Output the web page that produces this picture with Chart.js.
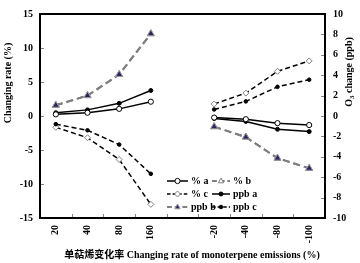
<!DOCTYPE html>
<html>
<head>
<meta charset="utf-8">
<script src="https://cdn.jsdelivr.net/npm/chart.js@4/dist/chart.umd.min.js"></script>
<style>
  html, body { margin: 0; padding: 0; background: #fff; }
  #wrap { width: 360px; height: 263px; }
</style>
</head>
<body>
<div id="wrap"><canvas id="c" width="360" height="263"></canvas></div>
<script>
// categories (blank slot separates increase / decrease scenarios)
const categories = ['20', '40', '80', '160', '', '-20', '-40', '-80', '-100'];

// % series (left axis)
const pctA = [0.24, 0.48, 1.05, 2.1, null, -0.23, -0.47, -1.05, -1.33];
const pctB = [1.57, 3.0, 6.1, 12.1, null, -1.57, -3.1, -6.2, -7.7];
const pctC = [-1.66, -3.2, -6.4, -13.0, null, 1.77, 3.37, 6.57, 8.1];

// ppb series (right axis)
const ppbA = [0.32, 0.6, 1.24, 2.5, null, -0.25, -0.53, -1.3, -1.53];
const ppbB = [1.05, 2.0, 4.07, 8.07, null, -1.05, -2.07, -4.13, -5.13];
const ppbC = [-0.8, -1.4, -2.8, -5.67, null, 0.64, 1.43, 2.86, 3.56];

const SERIF = '"Liberation Serif", "Times New Roman", "Noto Sans CJK SC", serif';
const NAVY = '#2a2463';
const GREY = '#7f7f7f';

const seriesDefs = [
  { label: '% a',   data: pctA, axis: 'y',  color: '#000', dash: [],     width: 1.5, pt: 'circle',   r: 2.6, fill: '#fff', ptBorder: '#000', order: 3 },
  { label: '% b',   data: pctB, axis: 'y',  color: GREY,   dash: [7, 4], width: 2,   pt: 'triangle', r: 4,   fill: '#fff', ptBorder: GREY,   order: 5 },
  { label: '% c',   data: pctC, axis: 'y',  color: '#000', dash: [5, 3], width: 1.5, pt: 'rectRot',  r: 3,   fill: '#fff', ptBorder: GREY,   order: 2 },
  { label: 'ppb a', data: ppbA, axis: 'y1', color: '#000', dash: [],     width: 1.5, pt: 'circle',   r: 2,   fill: '#000', ptBorder: '#000', order: 4 },
  { label: 'ppb b', data: ppbB, axis: 'y1', color: GREY,   dash: [7, 4], width: 2,   pt: 'triangle', r: 4,   fill: NAVY,   ptBorder: '#9a9a9a', order: 1 },
  { label: 'ppb c', data: ppbC, axis: 'y1', color: '#000', dash: [5, 3], width: 1.5, pt: 'circle',   r: 1.8, fill: '#000', ptBorder: '#000', order: 0 }
];

const datasets = seriesDefs.map(s => ({
  label: s.label,
  data: s.data,
  yAxisID: s.axis,
  borderColor: s.color,
  borderDash: s.dash,
  borderWidth: s.width,
  pointStyle: s.pt,
  pointRadius: s.r,
  pointBackgroundColor: s.fill,
  pointBorderColor: s.ptBorder,
  pointBorderWidth: 1,
  tension: 0,
  spanGaps: false,
  order: s.order
}));

function drawMarker(ctx, s, x, y) {
  ctx.save();
  ctx.setLineDash([]);
  ctx.fillStyle = s.fill;
  ctx.strokeStyle = s.ptBorder;
  ctx.lineWidth = 1;
  ctx.beginPath();
  const r = s.r;
  if (s.pt === 'circle') {
    ctx.arc(x, y, r, 0, Math.PI * 2);
  } else if (s.pt === 'triangle') {
    ctx.moveTo(x, y - r);
    ctx.lineTo(x + r * 0.87, y + r * 0.6);
    ctx.lineTo(x - r * 0.87, y + r * 0.6);
    ctx.closePath();
  } else {
    ctx.moveTo(x, y - r); ctx.lineTo(x + r, y); ctx.lineTo(x, y + r); ctx.lineTo(x - r, y);
    ctx.closePath();
  }
  ctx.fill();
  ctx.stroke();
  ctx.restore();
}

function drawO3Title(ctx, cx, cy) {
  ctx.save();
  ctx.translate(cx, cy);
  ctx.rotate(-Math.PI / 2);
  ctx.textAlign = 'left';
  ctx.textBaseline = 'middle';
  const big = 'bold 10px ' + SERIF, small = 'bold 7px ' + SERIF;
  ctx.font = big;
  const w1 = ctx.measureText('O').width;
  const w3 = ctx.measureText(' change (ppb)').width;
  ctx.font = small;
  const w2 = ctx.measureText('3').width;
  const x0 = -(w1 + w2 + w3) / 2;
  ctx.font = big;
  ctx.fillText('O', x0, 0);
  ctx.font = small;
  ctx.fillText('3', x0 + w1, 3);
  ctx.font = big;
  ctx.fillText(' change (ppb)', x0 + w1 + w2, 0);
  ctx.restore();
}

const framePlugin = {
  id: 'frame',
  afterDraw(chart) {
    const { ctx, chartArea: a, scales } = chart;
    ctx.save();
    // inward tick marks
    ctx.strokeStyle = '#888';
    ctx.lineWidth = 1;
    scales.y.ticks.forEach((t, i) => {
      const py = Math.round(scales.y.getPixelForTick(i)) + 0.5;
      ctx.beginPath(); ctx.moveTo(a.left, py); ctx.lineTo(a.left + 4, py); ctx.stroke();
    });
    scales.y1.ticks.forEach((t, i) => {
      const py = Math.round(scales.y1.getPixelForTick(i)) + 0.5;
      ctx.beginPath(); ctx.moveTo(a.right - 4, py); ctx.lineTo(a.right, py); ctx.stroke();
    });
    const cw = (a.right - a.left) / categories.length;
    for (let i = 1; i < categories.length; i++) {
      const px = Math.round(a.left + i * cw) + 0.5;
      ctx.beginPath(); ctx.moveTo(px, a.bottom); ctx.lineTo(px, a.bottom - 4); ctx.stroke();
    }
    // frame
    ctx.strokeStyle = '#000';
    ctx.lineWidth = 2;
    ctx.strokeRect(a.left, a.top, a.right - a.left, a.bottom - a.top);

    // legend
    const rows = [[0, 1], [2, 3], [4, 5]];
    const colLine = [[167, 188], [212, 230]];
    const colText = [191, 233];
    ctx.font = 'bold 10px ' + SERIF;
    ctx.textBaseline = 'middle';
    ctx.textAlign = 'left';
    rows.forEach((row, ri) => {
      const ly = 181 + ri * 13;
      row.forEach((si, ci) => {
        const s = seriesDefs[si];
        ctx.save();
        ctx.strokeStyle = s.color;
        ctx.lineWidth = s.width;
        ctx.setLineDash(s.dash.map(d => d * 0.7));
        ctx.beginPath(); ctx.moveTo(colLine[ci][0], ly); ctx.lineTo(colLine[ci][1], ly); ctx.stroke();
        ctx.restore();
        drawMarker(ctx, Object.assign({}, s, { r: Math.min(s.r, 3) }), (colLine[ci][0] + colLine[ci][1]) / 2, ly);
        ctx.fillStyle = '#000';
        ctx.fillText(s.label, colText[ci], ly);
      });
    });

    // axis titles
    ctx.fillStyle = '#000';
    ctx.textAlign = 'center';
    ctx.font = 'bold 10px ' + SERIF;
    ctx.fillText('单萜烯变化率 Changing rate of monoterpene emissions (%)', 192, 255);

    ctx.save();
    ctx.translate(8, 83);
    ctx.rotate(-Math.PI / 2);
    ctx.fillText('Changing rate (%)', 0, 0);
    ctx.restore();

    drawO3Title(ctx, 349, 72);
    ctx.restore();
  }
};

new Chart(document.getElementById('c').getContext('2d'), {
  type: 'line',
  data: { labels: categories, datasets },
  options: {
    responsive: false,
    animation: false,
    events: [],
    layout: { padding: { top: 7, left: 0, right: 0, bottom: 0 } },
    plugins: { legend: { display: false }, tooltip: { enabled: false } },
    scales: {
      x: {
        offset: true,
        grid: { display: false, drawTicks: false },
        border: { display: false },
        afterFit: s => { s.height = 45; },
        ticks: {
          color: '#000',
          minRotation: 90,
          maxRotation: 90,
          padding: 7,
          autoSkip: false,
          font: { family: SERIF, size: 10, weight: 'bold' }
        }
      },
      y: {
        position: 'left',
        min: -15, max: 15,
        grid: { display: false, drawTicks: false },
        border: { display: false },
        afterFit: s => { s.width = 40; },
        ticks: {
          stepSize: 5,
          color: '#000',
          padding: 7,
          font: { family: SERIF, size: 10, weight: 'bold' }
        }
      },
      y1: {
        position: 'right',
        min: -10, max: 10,
        grid: { display: false, drawTicks: false },
        border: { display: false },
        afterFit: s => { s.width = 35; },
        ticks: {
          stepSize: 2,
          color: '#000',
          padding: 8,
          font: { family: SERIF, size: 10, weight: 'bold' }
        }
      }
    }
  },
  plugins: [framePlugin]
});
</script>
</body>
</html>
